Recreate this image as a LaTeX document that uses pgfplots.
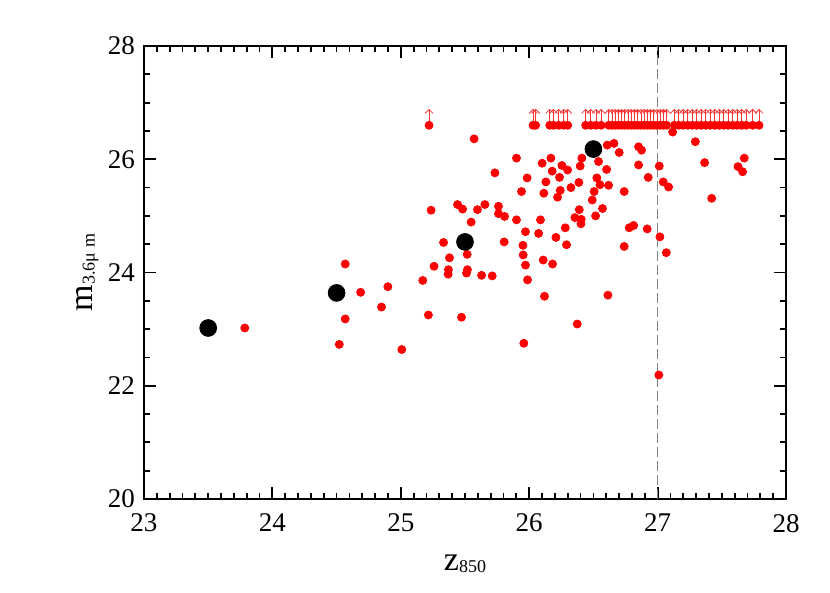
\documentclass[border=0pt]{standalone}
\usepackage{fontspec}
\setmainfont{Liberation Serif}
\usepackage{pgfplots}
\pgfplotsset{compat=1.18}
\usetikzlibrary{arrows.meta}

% detections
\pgfplotstableread{
x y
23.785 23.02
24.521 22.73
24.567 24.15
24.567 23.18
24.687 23.65
24.850 23.39
24.899 23.75
25.008 22.64
25.171 23.86
25.215 23.25
25.236 25.10
25.259 24.11
25.333 24.53
25.379 24.26
25.371 24.05
25.369 23.97
25.442 25.20
25.481 25.12
25.473 23.21
25.517 24.32
25.519 24.05
25.512 23.99
25.548 24.89
25.571 26.36
25.597 25.11
25.629 23.95
25.655 25.20
25.712 23.94
25.733 25.76
25.761 25.17
25.761 25.04
25.805 24.54
25.808 24.99
25.901 26.02
25.901 24.93
25.940 25.43
25.951 24.48
25.953 24.31
25.958 22.75
25.971 24.72
25.971 24.13
25.984 25.67
25.987 23.87
26.073 24.69
26.088 24.93
26.101 25.93
26.109 24.22
26.114 25.40
26.119 23.58
26.130 25.60
26.169 26.02
26.179 25.79
26.182 24.15
26.208 24.62
26.221 25.33
26.236 25.68
26.242 25.45
26.255 25.89
26.281 24.79
26.291 24.49
26.299 25.81
26.325 25.50
26.356 24.97
26.374 23.09
26.387 25.59
26.390 25.11
26.397 25.88
26.403 24.86
26.405 24.94
26.410 26.02
26.491 25.28
26.506 25.43
26.517 25.00
26.527 25.67
26.540 25.96
26.551 25.55
26.571 25.13
26.603 25.82
26.608 26.25
26.613 23.60
26.618 25.54
26.660 26.28
26.701 26.12
26.740 25.43
26.740 24.46
26.779 24.79
26.813 24.83
26.852 26.22
26.852 25.90
26.875 26.16
26.919 24.77
26.927 25.68
27.010 22.19
27.013 25.88
27.018 24.63
27.044 25.60
27.068 24.35
27.086 25.51
27.117 26.48
27.294 26.31
27.366 25.94
27.421 25.31
27.626 25.87
27.662 25.78
27.675 26.02
}\det

% lower limits (undetected at 3.6 micron)
\pgfplotstableread{
x y
25.22 26.6
26.03 26.6
26.05 26.6
26.16 26.6
26.19 26.6
26.23 26.6
26.27 26.6
26.30 26.6
26.44 26.6
26.48 26.6
26.52 26.6
26.56 26.6
26.62 26.6
26.645 26.6
26.67 26.6
26.695 26.6
26.72 26.6
26.745 26.6
26.77 26.6
26.795 26.6
26.82 26.6
26.845 26.6
26.87 26.6
26.895 26.6
26.92 26.6
26.945 26.6
26.97 26.6
26.995 26.6
27.02 26.6
27.045 26.6
27.07 26.6
27.13 26.6
27.165 26.6
27.20 26.6
27.235 26.6
27.27 26.6
27.305 26.6
27.34 26.6
27.375 26.6
27.41 26.6
27.445 26.6
27.48 26.6
27.515 26.6
27.55 26.6
27.585 26.6
27.62 26.6
27.655 26.6
27.69 26.6
27.74 26.6
27.79 26.6
}\lim

% binned means
\pgfplotstableread{
x y
23.5 23.02
24.5 23.64
25.5 24.54
26.5 26.18
}\bins

\begin{document}
\begin{tikzpicture}
\begin{axis}[
    scale only axis, width=321pt, height=226.5pt,
    xmin=23, xmax=28, ymin=20, ymax=28,
    xtick={23,24,25,26,27,28}, ytick={20,22,24,26,28},
    minor x tick num=9, minor y tick num=3,
    tick align=inside,
    major tick length=6pt, minor tick length=3pt,
    every tick/.style={black, line width=0.9pt},
    axis line style={line width=1.1pt},
    /pgf/number format/assume math mode=true,
    tick label style={font=\fontsize{13.5}{16}\selectfont},
    xticklabel style={yshift=-4pt},
    yticklabel style={xshift=-1pt},
    label style={font=\fontsize{17}{20}\selectfont},
    xlabel={z{\fontsize{9}{10}\selectfont\raisebox{-1pt}{850}}},
    xlabel style={at={(axis description cs:0.5,-0.157)}, anchor=base},
    ylabel={m{\fontsize{9}{10}\selectfont\raisebox{-1pt}{3.6μ m}}},
    ylabel style={at={(axis description cs:-0.08,0.5)}, anchor=base},
]
\addplot[gray, line width=0.5pt, dash pattern=on 5pt off 2pt] coordinates {(27,20) (27,28)};
\addplot[red!80, line width=0.4pt, no markers, quiver={u=0, v=0.29},
    -{Straight Barb[length=2pt, width=4pt]}] table {\lim};
\addplot[only marks, mark=*, mark size=2pt, mark options={draw=red, fill=red}] table {\lim};
\addplot[only marks, mark=*, mark size=2pt, mark options={draw=red, fill=red}] table {\det};
\addplot[only marks, mark=*, mark size=4.2pt, mark options={draw=black, fill=black}] table {\bins};
\end{axis}
\pgfresetboundingbox
\path (-72pt,-47pt) rectangle (343pt,249.5pt);
\end{tikzpicture}
\end{document}
